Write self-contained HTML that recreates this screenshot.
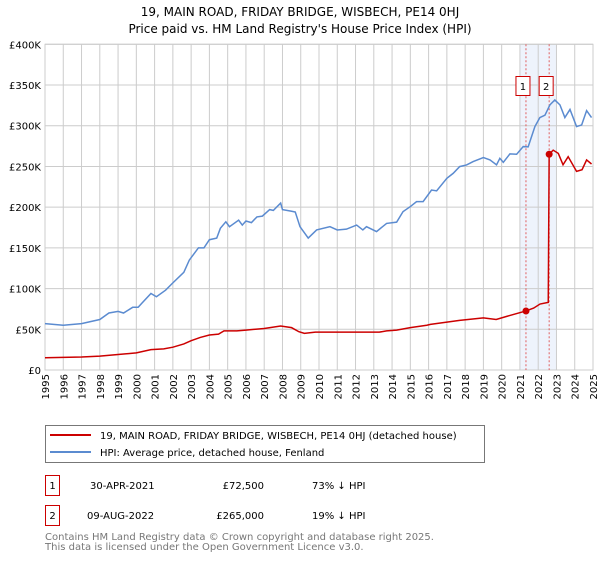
<!DOCTYPE html>
<html><head><meta charset="utf-8"><style>
body{margin:0;background:#fff;}
svg text{font-family:"DejaVu Sans","Liberation Sans",sans-serif;}
</style></head><body>
<svg id="chart" width="600" height="560" viewBox="0 0 600 560" xmlns="http://www.w3.org/2000/svg">
<text x="300" y="16" text-anchor="middle" font-size="12">19, MAIN ROAD, FRIDAY BRIDGE, WISBECH, PE14 0HJ</text>
<text x="300" y="33" text-anchor="middle" font-size="12">Price paid vs. HM Land Registry's House Price Index (HPI)</text>
<g id="grid"></g>
<g id="marks"></g>
<g id="axes"></g>
<g>
<rect x="45.5" y="425.5" width="439" height="37" fill="#fff" stroke="#777"/>
<line x1="50" y1="435" x2="91" y2="435" stroke="#cc0000" stroke-width="2"/>
<text x="100" y="439" font-size="10">19, MAIN ROAD, FRIDAY BRIDGE, WISBECH, PE14 0HJ (detached house)</text>
<line x1="50" y1="452" x2="91" y2="452" stroke="#5b8bd0" stroke-width="2"/>
<text x="100" y="456" font-size="10">HPI: Average price, detached house, Fenland</text>
</g>
<g font-size="10">
<rect x="45.5" y="475.5" width="14" height="20" fill="#fff" stroke="#cc0000"/>
<text x="52.5" y="489" text-anchor="middle">1</text>
<text x="90" y="489">30-APR-2021</text>
<text x="264" y="489" text-anchor="end">£72,500</text>
<text x="312" y="489">73% ↓ HPI</text>
<rect x="45.5" y="505.5" width="14" height="20" fill="#fff" stroke="#cc0000"/>
<text x="52.5" y="519" text-anchor="middle">2</text>
<text x="87" y="519">09-AUG-2022</text>
<text x="264" y="519" text-anchor="end">£265,000</text>
<text x="312" y="519">19% ↓ HPI</text>
</g>
<text x="45" y="540" font-size="10" fill="#777">Contains HM Land Registry data © Crown copyright and database right 2025.</text>
<text x="45" y="550" font-size="10" fill="#777">This data is licensed under the Open Government Licence v3.0.</text>
</svg>
<script>
const yTicks=[0,50000,100000,150000,200000,250000,300000,350000,400000];
const yTickLabels=["£0","£50K","£100K","£150K","£200K","£250K","£300K","£350K","£400K"];
const xYears=[1995,1996,1997,1998,1999,2000,2001,2002,2003,2004,2005,2006,2007,2008,2009,2010,2011,2012,2013,2014,2015,2016,2017,2018,2019,2020,2021,2022,2023,2024,2025];
const hpiYears=[1995,1996,1997,1998,1998.5,1999,1999.3,1999.8,2000.1,2000.3,2000.8,2001.1,2001.6,2002,2002.6,2002.9,2003.4,2003.7,2004,2004.4,2004.6,2004.9,2005.1,2005.6,2005.8,2006,2006.3,2006.6,2006.9,2007.3,2007.5,2007.9,2008,2008.5,2008.7,2008.96,2009.41,2009.87,2010.6,2011.0,2011.5,2012.06,2012.4,2012.6,2013.15,2013.7,2014.25,2014.6,2015.0,2015.34,2015.7,2016.16,2016.44,2017.0,2017.35,2017.7,2018.08,2018.44,2019.0,2019.36,2019.72,2019.9,2020.09,2020.45,2020.82,2021.18,2021.45,2021.82,2022.09,2022.37,2022.64,2022.91,2023.19,2023.46,2023.74,2024.1,2024.38,2024.65,2024.92];
const hpiValues=[57000,55000,57000,62000,70000,72000,70000,77000,77000,82000,94000,90000,98000,107000,120000,135000,150000,150000,160000,162000,174000,182000,176000,184000,178000,183000,181000,188000,189000,197000,196000,205000,197000,195000,194000,176000,162000,172000,176000,172000,173000,178000,172000,176000,170000,180000,181600,194500,200700,206800,206800,221000,220000,235500,241600,249800,251800,256000,260900,258000,252000,260000,255000,265400,265000,274400,274000,299000,310000,313000,325600,331700,325600,310000,320000,299000,301000,318600,310000];
const priceYears=[1995,1997,1998,1999,2000,2000.8,2001.5,2002,2002.6,2003,2003.5,2004,2004.5,2004.8,2005.5,2006,2007,2007.9,2008.5,2008.9,2009.2,2009.8,2011,2012.5,2013.3,2013.7,2014.25,2015,2015.9,2016.1,2017.7,2019.0,2019.7,2020.3,2021.33,2021.75,2022.1,2022.55,2022.6,2022.82,2023.1,2023.36,2023.64,2024.1,2024.4,2024.65,2024.92];
const priceValues=[15000,16000,17000,19000,21000,25000,26000,28000,32000,36000,40000,43000,44000,48000,48000,49000,51000,54000,52000,47000,45000,46500,46500,46500,46500,48000,49000,52000,55000,56000,61000,64000,62000,66000,72500,76000,81000,83000,265000,270000,266000,252000,262000,244000,246000,258000,253000];
const saleYears=[2021.33,2022.6];
const saleValues=[72500,265000];
const saleLabels=["1","2"];

const X0=45,X1=593,Y0=370,Y1=44.3;
const xs=y=>X0+(y-1995)/(2025-1995)*(X1-X0);
const ys=v=>Y0-v/400000*(Y0-Y1);
const NS="http://www.w3.org/2000/svg";
function mk(parent,tag,attrs){const e=document.createElementNS(NS,tag);for(const k in attrs)e.setAttribute(k,attrs[k]);parent.appendChild(e);return e;}
const grid=document.getElementById('grid'),marks=document.getElementById('marks'),axes=document.getElementById('axes');
const sh=mk(grid,'rect',{x:xs(2021),y:Y1,width:xs(2023)-xs(2021),height:Y0-Y1,fill:'#eef3fc'});


xYears.forEach(yr=>{const l=mk(grid,'line',{x1:xs(yr),x2:xs(yr),y1:Y1,y2:Y0,stroke:'#cccccc','stroke-width':1});


const t=mk(axes,'text',{transform:`translate(${xs(yr)+4},${Y0+4}) rotate(-90)`,'text-anchor':'end','font-size':10});t.textContent=yr;

});
yTicks.forEach((v,i)=>{const l=mk(grid,'line',{x1:X0,x2:X1,y1:ys(v),y2:ys(v),stroke:'#cccccc','stroke-width':1});


const t=mk(axes,'text',{x:X0-4,y:ys(v)+4,'text-anchor':'end','font-size':10});t.textContent=yTickLabels[i];

});
const fr=mk(grid,'rect',{x:X0,y:Y1,width:X1-X0,height:Y0-Y1,fill:'none',stroke:'#cccccc'});


saleYears.forEach(yr=>{const l=mk(marks,'line',{x1:xs(yr),x2:xs(yr),y1:Y1,y2:Y0,stroke:'#e06060','stroke-width':1,'stroke-dasharray':'2,2'});

});
const hp=mk(marks,'polyline',{points:hpiYears.map((y,i)=>xs(y)+','+ys(hpiValues[i])).join(' '),fill:'none',stroke:'#5b8bd0','stroke-width':1.5});


const pp=mk(marks,'polyline',{points:priceYears.map((y,i)=>xs(y)+','+ys(priceValues[i])).join(' '),fill:'none',stroke:'#cc0000','stroke-width':1.5});


saleYears.forEach((yr,i)=>{const c=mk(marks,'circle',{cx:xs(yr),cy:ys(saleValues[i]),r:3.5,fill:'#cc0000'});


const bx=xs(yr)-3;
const r=mk(marks,'rect',{x:bx-7,y:76.5,width:14,height:19,fill:'#fff',stroke:'#cc0000'});


const t=mk(marks,'text',{x:bx,y:90,'text-anchor':'middle','font-size':10});t.textContent=saleLabels[i];

});
</script>
</body></html>
